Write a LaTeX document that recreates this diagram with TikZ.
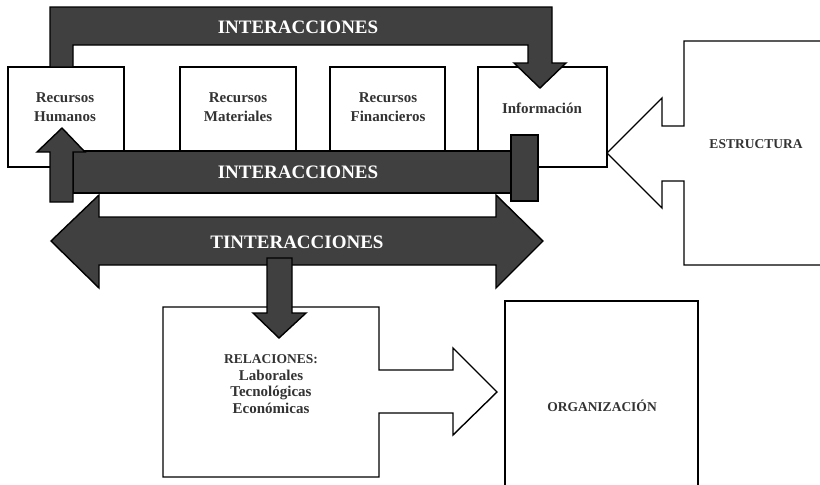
\documentclass[tikz,border=0pt]{standalone}
\usepackage{fontspec}
\setmainfont{Liberation Serif}
\begin{document}
\begin{tikzpicture}[x=1pt,y=-1pt,
  outl/.style={draw=black,line width=1.4pt,line join=miter},
  darkshape/.style={outl,fill=barfill},
  whitebox/.style={outl,fill=white},
  bartext/.style={text=white,font=\bfseries\fontsize{19}{22}\selectfont,inner sep=0pt},
  boxtext/.style={text=labelgray,font=\bfseries\fontsize{15}{18.5}\selectfont,align=center,inner sep=0pt},
  captext/.style={text=labelgray,font=\bfseries\fontsize{13.5}{15}\selectfont,inner sep=0pt}]
\definecolor{barfill}{HTML}{404040}
\definecolor{labelgray}{HTML}{333333}
\useasboundingbox (0,0) rectangle (820,485);

% resource boxes
\path[whitebox] (8,67) rectangle (124,167);
\path[whitebox] (180,67) rectangle (296,167);
\path[whitebox] (330,67) rectangle (445,167);
\path[whitebox] (478,67) rectangle (607,167);
\node[boxtext] (rh) at (65,107) {Recursos\\Humanos};
\node[boxtext] (rm) at (238,107) {Recursos\\Materiales};
\node[boxtext] (rf) at (388,107) {Recursos\\Financieros};
\node[boxtext] (inf) at (542,108) {Información};

% estructura
\path[whitebox] (822,41) -- (684,41) -- (684,126) -- (662,126) -- (662,98) -- (607,153)
  -- (662,208) -- (662,181) -- (684,181) -- (684,265) -- (822,265);
\node[captext] (est) at (756,144) {ESTRUCTURA};

% top interacciones
\path[darkshape] (50,67) -- (50,7) -- (552,7) -- (552,63) -- (566,63) -- (540,88)
  -- (514,63) -- (528,63) -- (528,45) -- (73,45) -- (73,67) -- cycle;
\node[bartext] (i1) at (298,27) {INTERACCIONES};

% double arrow
\path[darkshape] (51,241) -- (99,195) -- (99,217) -- (496,217) -- (496,195) -- (543,241)
  -- (496,288) -- (496,265) -- (99,265) -- (99,288) -- cycle;
\node[bartext] (ti) at (297,242) {TINTERACCIONES};

% middle interacciones
\path[darkshape] (73,151) rectangle (511,193);
\path[darkshape] (50,202) -- (50,152) -- (37,152) -- (62,128) -- (85,152) -- (73,152) -- (73,202) -- cycle;
\path[darkshape] (511,135) rectangle (538,201);
\node[bartext] (i2) at (298,172) {INTERACCIONES};

% relaciones
\path[whitebox] (163,307) -- (379,307) -- (379,370) -- (453,370) -- (453,348) -- (497,392)
  -- (453,435) -- (453,413) -- (379,413) -- (379,477) -- (163,477) -- cycle;
\path[darkshape] (267,258) -- (292,258) -- (292,313) -- (306,313) -- (279,338) -- (253,313)
  -- (267,313) -- cycle;
\node[text=labelgray,font=\bfseries\fontsize{15}{16.5}\selectfont,align=center,inner sep=0pt] (rel) at (271,384)
  {{\fontsize{13.5}{16.5}\selectfont RELACIONES:}\\Laborales\\Tecnológicas\\Económicas};

% organizacion
\path[outl] (505,488) -- (505,301) -- (698,301) -- (698,488);
\node[captext] (org) at (602,406) {ORGANIZACIÓN};
\end{tikzpicture}
\end{document}
